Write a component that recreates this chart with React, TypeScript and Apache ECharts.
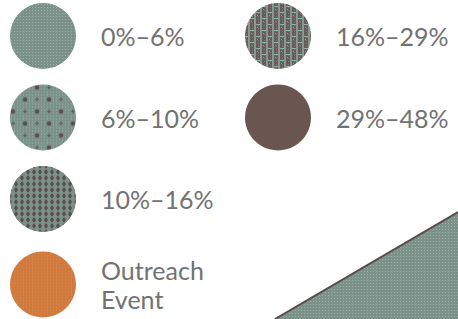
import React, { useEffect, useRef } from "react";
import * as echarts from "echarts";

// Legend entries
const categories = ["0%–6%", "6%–10%", "10%–16%", "16%–29%", "29%–48%", "Outreach\nEvent"];
const columnIndex = [0, 0, 0, 1, 1, 0];
const rowIndex = [0, 1, 2, 0, 1, 3];
const patternKeys = ["p0", "p1", "p2", "p3", "p4", "out"];

// Map boundary fragment (bottom right)
const boundaryX = [275, 458];
const boundaryY = [319, 212];

const W = 458;
const H = 319;
const COL_X = [43, 278];
const ROW_Y = [36, 117.5, 199, 284.5];
const SYMBOL_SIZE = 66;

function tile(w: number, h: number, scale: number, draw: (c: CanvasRenderingContext2D) => void) {
  const cv = document.createElement("canvas");
  cv.width = w;
  cv.height = h;
  const ctx = cv.getContext("2d")!;
  draw(ctx);
  return {
    image: cv,
    repeat: "repeat",
    imageWidth: w,
    imageHeight: h,
    scaleX: scale,
    scaleY: scale,
  } as any;
}

function mesh(ctx: CanvasRenderingContext2D, w: number, h: number, base: string, light: string) {
  ctx.fillStyle = base;
  ctx.fillRect(0, 0, w, h);
  ctx.fillStyle = light;
  for (let x = 0; x < w; x += 3) {
    for (let y = 0; y < h; y += 3) {
      ctx.fillRect(x + 1, y + 1, 1, 1);
    }
  }
}

function makePatterns(scale: number) {
  const GREEN = "#7a928a";
  const LIGHT = "#9cb0a8";
  const DARK = "#5a4f4e";
  return {
    p0: tile(6, 6, scale, (c) => mesh(c, 6, 6, GREEN, LIGHT)),
    p1: tile(24, 24, scale, (c) => {
      mesh(c, 24, 24, GREEN, LIGHT);
      c.fillStyle = DARK;
      [[6, 6], [18, 18]].forEach(([x, y]) => {
        c.beginPath();
        c.arc(x, y, 2.3, 0, Math.PI * 2);
        c.fill();
      });
      c.fillStyle = "#66625f";
      [[18, 6], [6, 18]].forEach(([x, y]) => {
        c.beginPath();
        c.arc(x, y, 1.8, 0, Math.PI * 2);
        c.fill();
      });
    }),
    p2: tile(12, 12, scale, (c) => {
      mesh(c, 12, 12, GREEN, LIGHT);
      c.fillStyle = DARK;
      [[3, 3], [9, 3], [3, 9], [9, 9]].forEach(([x, y]) => {
        c.beginPath();
        c.ellipse(x, y, 1.8, 2.4, 0, 0, Math.PI * 2);
        c.fill();
      });
    }),
    p3: tile(12, 12, scale, (c) => {
      mesh(c, 12, 12, "#6b5a5d", "#87767a");
      c.fillStyle = "#7f9c90";
      c.fillRect(0, 0, 2, 12);
      c.fillRect(6, 0, 2, 12);
      c.fillStyle = "#93b2a4";
      c.fillRect(2, 0, 4, 1);
      c.fillRect(8, 6, 4, 1);
      c.fillStyle = "#a0949a";
      c.fillRect(3, 3, 1, 1);
      c.fillRect(9, 9, 1, 1);
    }),
    p4: "#6a5650",
    out: tile(6, 6, scale, (c) => {
      c.fillStyle = "#d17a3e";
      c.fillRect(0, 0, 6, 6);
      c.fillStyle = "#d88a52";
      for (let x = 0; x < 6; x += 3) for (let y = 0; y < 6; y += 3) c.fillRect(x + 1, y + 1, 1, 1);
    }),
  } as Record<string, any>;
}

export default function App() {
  const ref = useRef<HTMLDivElement>(null);
  useEffect(() => {
    if (!ref.current) return;
    const chart = echarts.init(ref.current, null, { renderer: "svg" });
    const symbolPatterns = makePatterns(2 / SYMBOL_SIZE);
    const areaPatterns = makePatterns(1);
    const legendData = categories.map((name, i) => ({
      name,
      value: [COL_X[columnIndex[i]], ROW_Y[rowIndex[i]]],
      itemStyle: { color: symbolPatterns[patternKeys[i]], opacity: 1 },
    }));
    chart.setOption({
      animation: false,
      grid: { left: 0, right: 0, top: 0, bottom: 0 },
      xAxis: { type: "value", min: 0, max: W, show: false },
      yAxis: { type: "value", min: 0, max: H, inverse: true, show: false },
      series: [
        {
          type: "line",
          data: boundaryX.map((x, i) => [x, boundaryY[i]]),
          showSymbol: false,
          lineStyle: { color: "#5b4a48", width: 2 },
          areaStyle: { origin: "end", color: areaPatterns.p0, opacity: 1 },
          silent: true,
          z: 1,
        },
        {
          type: "scatter",
          symbol: "circle",
          symbolSize: SYMBOL_SIZE,
          data: legendData,
          z: 2,
          emphasis: { disabled: true },
          label: {
            show: true,
            position: "right",
            distance: 25,
            formatter: (p: any) => p.name,
            color: "#727272",
            fontFamily: "Lato",
            fontWeight: 400,
            fontSize: 25,
            lineHeight: 29,
            align: "left",
            verticalAlign: "middle",
          },
        },
      ],
    });
    return () => chart.dispose();
  }, []);
  return <div ref={ref} style={{ width: W, height: H, position: "absolute", left: 0, top: 0 }} />;
}
